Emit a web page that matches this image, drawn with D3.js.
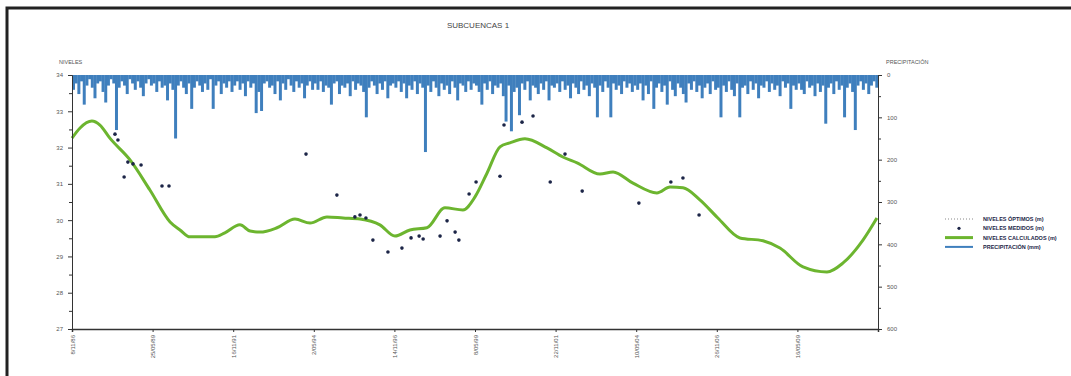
<!DOCTYPE html>
<html>
<head>
<meta charset="utf-8">
<script src="https://cdn.jsdelivr.net/npm/d3@7"></script>
<style>
	body { margin: 0; background: #fff; }
	svg { display: block; font-family: 'Liberation Sans', Arial, sans-serif; }
	.tick text { fill: #555; font-size: 6px; }
	.axis path, .axis line { stroke: #333; }
</style>
</head>
<body>
<svg id="chart"></svg>
<script>
const SVG_WIDTH = 1071;
const SVG_HEIGHT = 376;

const PLOT = { left: 72, right: 878, top: 75, bottom: 329 };

// monthly precipitation (mm), 300 months, one block of 30 per x tick
const PRECIP = [
	35,20,45,15,70,25,10,30,55,20,15,40,65,25,10,20,130,30,15,25,45,10,20,35,15,30,50,20,10,25,
	20,40,15,30,25,60,20,35,150,25,15,30,45,20,80,30,15,25,40,20,35,10,80,25,15,45,20,30,15,40,
	25,15,35,20,50,15,30,20,90,40,85,20,15,30,25,45,15,60,20,35,10,25,40,15,30,20,55,25,15,35,
	20,35,15,40,25,30,70,20,15,45,25,30,20,50,15,35,20,25,40,100,30,15,25,45,20,35,15,55,25,20,
	30,15,40,20,55,25,35,15,45,20,30,182,25,40,15,30,50,20,35,25,45,15,30,60,20,25,40,15,35,20,
	25,40,70,20,35,15,45,25,30,20,50,110,25,133,40,30,95,20,35,15,60,25,30,45,20,35,15,60,25,30,
	20,40,15,35,25,55,20,30,45,15,35,25,50,20,30,100,25,40,15,30,100,20,35,25,45,15,30,20,40,25,
	35,20,60,25,45,15,80,30,20,40,25,70,15,35,50,20,30,45,65,20,35,15,40,25,55,30,20,45,15,35,
	30,100,25,40,15,35,50,20,100,30,25,45,15,35,20,55,25,30,15,40,20,35,25,50,15,30,20,80,25,35,
	20,35,45,15,30,25,50,20,40,25,115,30,20,45,15,35,25,100,30,20,40,130,25,15,35,20,45,25,15,30
];

// calculated levels (m): month index and level
const CALC_MONTH = [0,3,7.4,10.4,14.1,21.6,29,36.5,40.2,43.9,53.2,56.9,62.5,66.3,70,76.3,83,88.6,94.9,100.9,
	107.2,114.6,120.2,125.8,132.1,138.8,145.5,150,154.5,159.3,163,168.6,176.8,182.7,188,196.5,201.4,208.8,217.7,222.6,
	227.4,233.7,240.4,248.6,257.2,263.5,272.1,281,287,294.4,299.6];
const CALC_LEVEL = [32.26,32.54,32.73,32.62,32.26,31.66,30.83,29.95,29.73,29.54,29.54,29.65,29.87,29.70,29.67,29.79,30.03,29.92,30.09,30.06,
	30.03,29.87,29.56,29.73,29.79,30.34,30.28,30.64,31.30,32.02,32.13,32.24,31.99,31.74,31.58,31.27,31.33,31.02,30.75,30.91,
	30.89,30.56,30.06,29.51,29.43,29.23,28.71,28.57,28.82,29.45,30.06];

// measured levels (m)
const MEAS_MONTH = [16,17.1,19.4,20.8,22.7,25.7,33.5,36.1,87.1,98.6,105.3,107.2,109.4,112,117.6,122.8,126.2,129.2,130.7,137,
	139.6,142.6,144,147.8,150.4,159.3,160.8,167.5,171.6,178,183.5,189.9,211,222.9,227.4,233.4];
const MEAS_LEVEL = [32.37,32.21,31.19,31.60,31.55,31.52,30.94,30.94,31.82,30.69,30.09,30.14,30.06,29.45,29.12,29.23,29.51,29.56,29.48,29.56,
	29.98,29.67,29.45,30.72,31.05,31.21,32.62,32.70,32.87,31.05,31.82,30.80,30.47,31.05,31.16,30.14];

const X_TICKS = [0,30,60,90,120,150,180,210,240,270,300];
const X_TICK_LABELS = ['8/11/86','25/05/89','16/11/91','2/05/94','14/11/96','8/05/99','22/11/01','10/05/04','26/11/06','16/05/09',''];
const LEFT_TICKS = [27,28,29,30,31,32,33,34];
const RIGHT_TICKS = [0,100,200,300,400,500,600];

const LEGEND_LABELS = ['NIVELES ÓPTIMOS (m)','NIVELES MEDIDOS (m)','NIVELES CALCULADOS (m)','PRECIPITACIÓN (mm)'];

const BLUE = '#3f7fbd';
const GREEN = '#6cb52f';
const NAVY = '#1c2547';

const x = d3.scaleLinear().domain([0, 300]).range([PLOT.left, PLOT.right]);
const yLevel = d3.scaleLinear().domain([27, 34]).range([PLOT.bottom, PLOT.top]);
const yRain = d3.scaleLinear().domain([0, 600]).range([PLOT.top, PLOT.bottom]);

const svg = d3.select('#chart')
	.attr('width', SVG_WIDTH)
	.attr('height', SVG_HEIGHT);

// outer frame
svg.append('rect')
	.attr('x', 7).attr('y', 8)
	.attr('width', 1100).attr('height', 420)
	.attr('fill', 'none')
	.attr('stroke', '#222')
	.attr('stroke-width', 3);

svg.append('text')
	.attr('x', 478).attr('y', 28)
	.attr('text-anchor', 'middle')
	.style('font-size', '8px')
	.style('fill', '#444')
	.text('SUBCUENCAS 1');

// precipitation bars hanging from the top
svg.append('g')
	.selectAll('rect')
	.data(PRECIP)
	.enter()
	.append('rect')
		.attr('x', (d, i) => x(i))
		.attr('y', yRain(0))
		.attr('width', (d, i) => x(i + 1) - x(i) + 0.3)
		.attr('height', d => yRain(d) - yRain(0))
		.attr('fill', BLUE);

// calculated levels
const calc = CALC_MONTH.map((m, i) => ({ m: m, v: CALC_LEVEL[i] }));
svg.append('path')
	.attr('fill', 'none')
	.attr('stroke', GREEN)
	.attr('stroke-width', 3)
	.attr('stroke-linejoin', 'round')
	.attr('d', d3.line()
		.x(d => x(d.m))
		.y(d => yLevel(d.v))
		.curve(d3.curveMonotoneX)(calc));

// measured levels
svg.append('g')
	.selectAll('circle')
	.data(MEAS_MONTH.map((m, i) => ({ m: m, v: MEAS_LEVEL[i] })))
	.enter()
	.append('circle')
		.attr('cx', d => x(d.m))
		.attr('cy', d => yLevel(d.v))
		.attr('r', 1.8)
		.attr('fill', NAVY);

// left axis
svg.append('g')
	.attr('class', 'axis')
	.attr('transform', 'translate(' + PLOT.left + ', 0)')
	.call(d3.axisLeft(yLevel).tickValues(LEFT_TICKS).tickSize(4).tickPadding(5).tickFormat(d3.format('d')));
svg.append('g')
	.attr('class', 'axis')
	.attr('transform', 'translate(' + PLOT.left + ', 0)')
	.call(d3.axisLeft(yLevel).tickValues(LEFT_TICKS.slice(1).map(d => d - 0.5)).tickSize(3).tickFormat(''))
	.select('.domain').remove();

// right axis
svg.append('g')
	.attr('class', 'axis')
	.attr('transform', 'translate(' + PLOT.right + ', 0)')
	.call(d3.axisRight(yRain).tickValues(RIGHT_TICKS).tickSize(4).tickPadding(5));
svg.append('g')
	.attr('class', 'axis')
	.attr('transform', 'translate(' + PLOT.right + ', 0)')
	.call(d3.axisRight(yRain).tickValues(RIGHT_TICKS.slice(1).map(d => d - 50)).tickSize(3).tickFormat(''))
	.select('.domain').remove();

// bottom axis
const xAxis = svg.append('g')
	.attr('class', 'axis')
	.attr('transform', 'translate(0, ' + PLOT.bottom + ')')
	.call(d3.axisBottom(x).tickValues(X_TICKS).tickSize(3).tickFormat((d, i) => X_TICK_LABELS[i]));
xAxis.select('.domain').attr('stroke-width', 1.5);
xAxis.selectAll('.tick text')
	.attr('transform', 'rotate(-90)')
	.attr('text-anchor', 'end')
	.attr('x', -6)
	.attr('y', 0)
	.attr('dy', '0.35em');

svg.append('text')
	.attr('x', 59).attr('y', 64)
	.style('font-size', '5.5px')
	.style('fill', '#555')
	.text('NIVELES');
svg.append('text')
	.attr('x', 886).attr('y', 64)
	.style('font-size', '5.5px')
	.style('fill', '#555')
	.text('PRECIPITACIÓN');

// legend
const legend = svg.append('g')
	.selectAll('g')
	.data(LEGEND_LABELS)
	.enter()
	.append('g')
		.attr('transform', (d, i) => 'translate(945, ' + (219 + i * 9.3) + ')');

legend.append('text')
	.attr('x', 38)
	.attr('dy', '0.35em')
	.style('font-size', '5.5px')
	.style('font-weight', 'bold')
	.style('fill', NAVY)
	.text(d => d);

legend.filter((d, i) => i === 0).append('line')
	.attr('x1', 0).attr('x2', 28)
	.attr('stroke', '#888')
	.attr('stroke-dasharray', '1,2');
legend.filter((d, i) => i === 1).append('circle')
	.attr('cx', 14).attr('r', 1.6)
	.attr('fill', NAVY);
legend.filter((d, i) => i === 2).append('line')
	.attr('x1', 0).attr('x2', 28)
	.attr('stroke', GREEN)
	.attr('stroke-width', 3);
legend.filter((d, i) => i === 3).append('line')
	.attr('x1', 0).attr('x2', 28)
	.attr('stroke', BLUE)
	.attr('stroke-width', 2);
</script>
</body>
</html>
